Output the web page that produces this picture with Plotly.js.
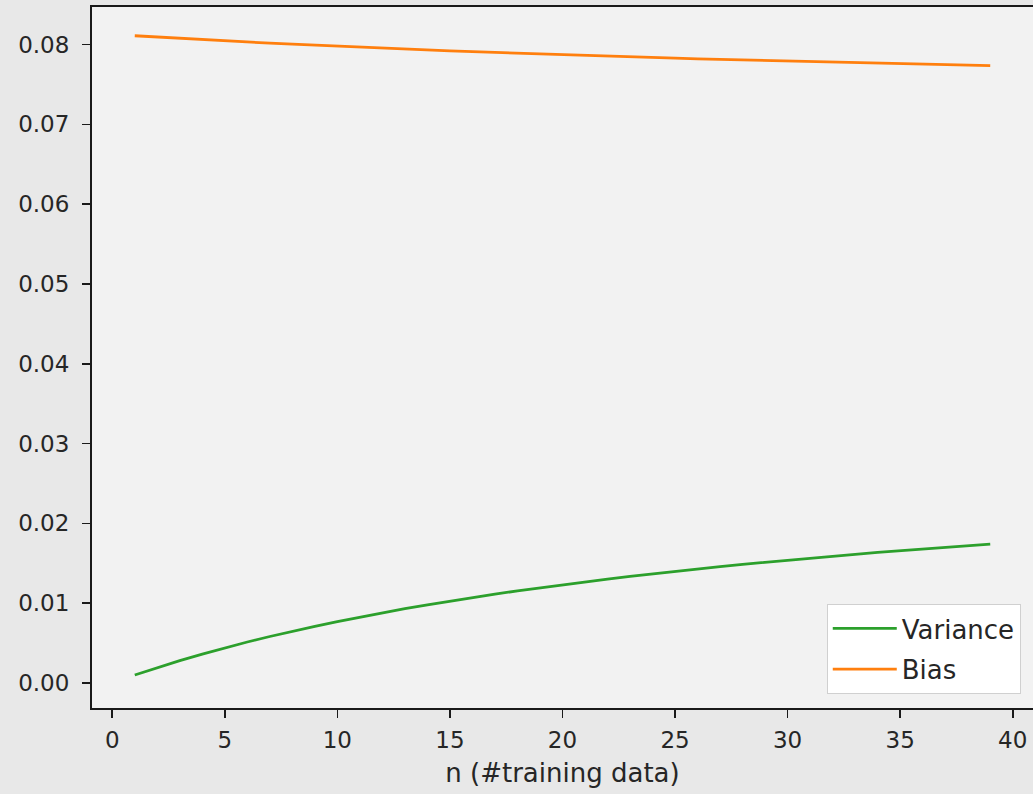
<!DOCTYPE html>
<html>
<head>
<meta charset="utf-8">
<script src="https://cdn.plot.ly/plotly-3.0.1.min.js"></script>
<style>
  html, body { margin: 0; padding: 0; background: #e8e8e8; }
  #chart { width: 1033px; height: 794px; }
</style>
</head>
<body>
<div id="chart"></div>
<script>
const nValues = [1,2,3,4,5,6,7,8,9,10,11,12,13,14,15,16,17,18,19,20,21,22,23,24,25,26,27,28,29,30,31,32,33,34,35,36,37,38,39];
const variance = [0.00100,0.00193,0.00280,0.00363,0.00440,0.00514,0.00583,0.00649,0.00711,0.00770,
  0.00827,0.00880,0.00932,0.00980,0.01027,0.01072,0.01114,0.01155,0.01194,0.01232,
  0.01268,0.01303,0.01337,0.01369,0.01400,0.01430,0.01459,0.01487,0.01514,0.01540,
  0.01565,0.01589,0.01613,0.01636,0.01658,0.01679,0.01700,0.01720,0.01740];
const bias = [0.08110,0.08093,0.08077,0.08061,0.08046,0.08031,0.08017,0.08004,0.07991,0.07978,
  0.07966,0.07954,0.07943,0.07931,0.07921,0.07910,0.07900,0.07890,0.07881,0.07872,
  0.07863,0.07854,0.07845,0.07837,0.07829,0.07821,0.07814,0.07806,0.07799,0.07792,
  0.07785,0.07779,0.07772,0.07766,0.07759,0.07753,0.07747,0.07742,0.07736];
const seriesNames = ["Variance", "Bias"];
const xTicks = [0,5,10,15,20,25,30,35,40];
const yTicks = [0,0.01,0.02,0.03,0.04,0.05,0.06,0.07,0.08];
const xTitle = "n (#training data)";

const font = "DejaVu Sans, sans-serif";
const traces = [
  {x: nValues, y: variance, name: seriesNames[0], type: "scatter", mode: "lines",
   legendgroup: "g1", line: {color: "#2ca02c", width: 2.8}},
  {x: nValues, y: bias, name: seriesNames[1], type: "scatter", mode: "lines",
   legendgroup: "g2", line: {color: "#ff7f0e", width: 2.8}}
];
const layout = {
  width: 1033, height: 794,
  paper_bgcolor: "#e8e8e8",
  plot_bgcolor: "#f2f2f2",
  margin: {l: 92, r: 0, t: 7, b: 86, pad: 0},
  font: {family: font, size: 23, color: "#262626"},
  showlegend: true,
  xaxis: {
    range: [-0.9, 40.9],
    tickmode: "array", tickvals: xTicks, ticktext: xTicks.map(String),
    ticks: "outside", ticklen: 8, tickwidth: 1.6, tickcolor: "#1a1a1a",
    showline: true, linecolor: "#1a1a1a", linewidth: 2, mirror: true,
    showgrid: false, zeroline: false,
    ticklabelstandoff: 2,
    tickfont: {family: font, size: 23, color: "#262626"},
    title: {text: xTitle, font: {family: font, size: 26, color: "#262626"}, standoff: 12}
  },
  yaxis: {
    range: [-0.00313, 0.0847],
    tickmode: "array", tickvals: yTicks, ticktext: yTicks.map(v => v.toFixed(2)),
    ticks: "outside", ticklen: 8, tickwidth: 1.6, tickcolor: "#1a1a1a",
    showline: true, linecolor: "#1a1a1a", linewidth: 2, mirror: false,
    showgrid: false, zeroline: false,
    ticklabelstandoff: 8,
    tickfont: {family: font, size: 23, color: "#262626"}
  },
  legend: {
    x: 0.987, y: 0.02, xanchor: "right", yanchor: "bottom",
    bgcolor: "#ffffff", bordercolor: "#d0d0d0", borderwidth: 1,
    itemwidth: 64, tracegroupgap: 4,
    font: {family: font, size: 26, color: "#262626"}
  }
};
Plotly.newPlot("chart", traces, layout, {displayModeBar: false, staticPlot: true});
</script>
</body>
</html>
